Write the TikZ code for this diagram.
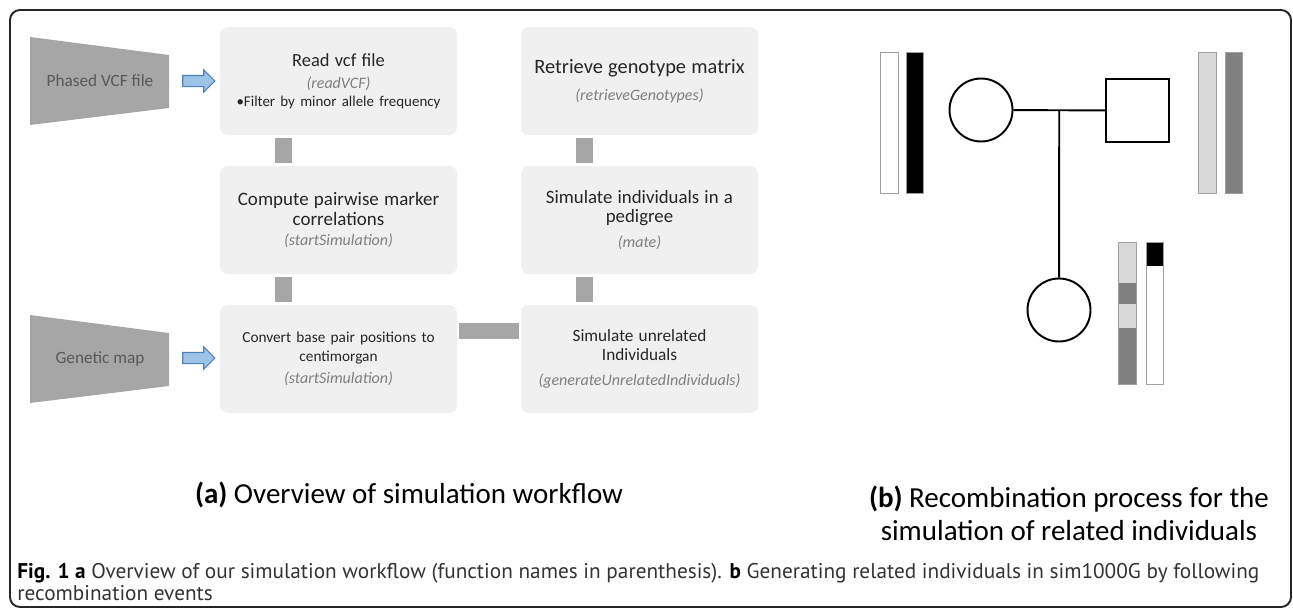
\documentclass[tikz,border=0pt]{standalone}
\usepackage{fontspec}
\setmainfont{Carlito}
\newfontfamily\capfont{PT Sans}
\usepackage{xcolor}
\usepackage{tikz}
\usetikzlibrary{positioning, shapes.geometric, shapes.arrows, calc}

\definecolor{boxgray}{HTML}{F0F0F0}
\definecolor{linkgray}{HTML}{A6A6A6}
\definecolor{textgray}{HTML}{595959}
\definecolor{fungray}{HTML}{7F7F7F}
\definecolor{arrowblue}{HTML}{9DC3E6}
\definecolor{arrowedge}{HTML}{4F81BD}
\definecolor{chromlight}{HTML}{D9D9D9}
\definecolor{chromdark}{HTML}{808080}
\definecolor{chromedge}{HTML}{A0A0A0}

\newcommand{\funcname}[1]{{\fontsize{9.1}{10}\selectfont\itshape\color{fungray}#1}}
\newcommand{\bigtitle}[1]{\fontsize{#1}{13}\selectfont}

\begin{document}
\begin{tikzpicture}[
        stepbox/.style={rounded corners=0.16cm, fill=boxgray, minimum width=4.74cm,
            minimum height=2.16cm, text width=4.5cm, inner sep=0pt, align=center,
            text=black!85, font=\fontsize{9}{11}\selectfont},
        link/.style={draw=linkgray, line width=0.34cm, shorten >=0.06cm, shorten <=0.06cm},
        feedarrow/.style={single arrow, draw=arrowedge, fill=arrowblue, line width=0.6pt,
            minimum height=0.64cm, text height=0.2cm, text depth=0cm,
            single arrow head extend=0.11cm, inner sep=0pt},
        source/.style={fill=linkgray},
        sourcetext/.style={text=textgray, font=\fontsize{9.8}{11}\selectfont},
        person/.style={draw, line width=1.1pt, minimum size=1.26cm, inner sep=0pt},
        chrom/.style={draw=chromedge, line width=0.5pt}
    ]
    \useasboundingbox (0,0) rectangle (25.86,-12.18);

    % Marco
    \draw[line width=1.1pt, draw=black!85, rounded corners=0.2cm] (0.2,-0.2) rectangle (25.82,-12.14);

    % Entradas
    \fill[source] (0.6,-0.74) -- (3.38,-1.1) -- (3.38,-2.16) -- (0.6,-2.5) -- cycle;
    \node[sourcetext] (vcf) at (2.0,-1.62) {Phased VCF file};
    \fill[source] (0.6,-6.3) -- (3.38,-6.66) -- (3.38,-7.72) -- (0.6,-8.06) -- cycle;
    \node[sourcetext] (map) at (2.0,-7.18) {Genetic map};

    \node[feedarrow] (vcfarrow) at (3.92,-1.62) {};
    \node[feedarrow] (maparrow) at (3.92,-7.16) {};

    % Pasos del flujo
    \node[stepbox] (read) at (6.77,-1.62) {{\bigtitle{10.5}Read vcf file}\\[1.4pt]
        \funcname{(readVCF)}\\[-0.8pt]
        {\fontsize{8.5}{10}\selectfont\textbullet Filter by minor allele frequency}};
    \node[stepbox] (corr) at (6.77,-4.4) {{\bigtitle{10.8}Compute pairwise marker\\correlations}\\[0.3pt]
        \funcname{(startSimulation)}};
    \node[stepbox] (conv) at (6.77,-7.18) {{\fontsize{8.7}{11}\selectfont Convert base pair positions to\\centimorgan}\\[1.6pt]
        \funcname{(startSimulation)}};
    \node[stepbox] (geno) at (12.79,-1.62) {{\bigtitle{11.6}Retrieve genotype matrix}\\[4.6pt]
        \funcname{(retrieveGenotypes)}};
    \node[stepbox] (mate) at (12.79,-4.4) {{\bigtitle{10.7}Simulate individuals in a\\pedigree}\\[3.4pt]
        \funcname{(mate)}};
    \node[stepbox] (unrel) at (12.79,-7.18) {{\fontsize{9.8}{12.5}\selectfont Simulate unrelated\\Individuals}\\[3pt]
        \funcname{(generateUnrelatedIndividuals)}};

    % Uniones
    \draw[link] ([xshift=-1.1cm]read.south) -- ([xshift=-1.1cm]corr.north);
    \draw[link] ([xshift=-1.1cm]corr.south) -- ([xshift=-1.1cm]conv.north);
    \draw[link, line width=0.32cm, shorten >=0.04cm, shorten <=0.04cm]
        ([yshift=0.56cm]conv.east) -- ([yshift=0.56cm]unrel.west);
    \draw[link] ([xshift=-1.1cm]geno.south) -- ([xshift=-1.1cm]mate.north);
    \draw[link] ([xshift=-1.1cm]mate.south) -- ([xshift=-1.1cm]unrel.north);

    % Pedigri
    \node[person, circle] (mother) at (19.62,-2.2) {};
    \node[person, rectangle] (father) at (22.75,-2.21) {};
    \node[person, circle] (child) at (21.18,-6.2) {};
    \coordinate (union) at ($(mother.east)!0.5!(father.west)$);
    \draw[line width=1.1pt] (mother) -- (father);
    \draw[line width=1.1pt] (union) -- (child);

    % Cromosomas
    \filldraw[chrom, fill=white] (17.6,-1.04) rectangle (17.96,-3.86);
    \filldraw[chrom, fill=black] (18.12,-1.04) rectangle (18.46,-3.86);
    \filldraw[chrom, fill=chromlight] (23.96,-1.04) rectangle (24.32,-3.86);
    \filldraw[chrom, fill=chromdark] (24.5,-1.04) rectangle (24.84,-3.86);

    \fill[chromlight] (22.36,-4.84) rectangle (22.72,-5.66);
    \fill[chromdark] (22.36,-5.66) rectangle (22.72,-6.08);
    \fill[chromlight] (22.36,-6.08) rectangle (22.72,-6.56);
    \fill[chromdark] (22.36,-6.56) rectangle (22.72,-7.68);
    \draw[chrom] (22.36,-4.84) rectangle (22.72,-7.68);
    \fill[black] (22.92,-4.84) rectangle (23.26,-5.32);
    \draw[chrom] (22.92,-4.84) rectangle (23.26,-7.68);

    % Rotulos
    \node[font=\fontsize{16.5}{19}\selectfont] (capa) at (8.18,-9.9)
        {\textbf{(a)} Overview of simulation workflow};
    \node[font=\fontsize{16.5}{18.7}\selectfont, align=center] (capb) at (21.38,-10.27)
        {\textbf{(b)} Recombination process for the\\simulation of related individuals};
    \node[anchor=west, align=left, inner sep=0pt, text=black!80,
        font=\capfont\fontsize{12.1}{13}\selectfont] (figcap) at (0.34,-11.64)
        {{\color{black}\textbf{Fig. 1 a}} Overview of our simulation workflow (function names in parenthesis). {\color{black}\textbf{b}} Generating related individuals in sim1000G by following\\recombination events};
\end{tikzpicture}
\end{document}
